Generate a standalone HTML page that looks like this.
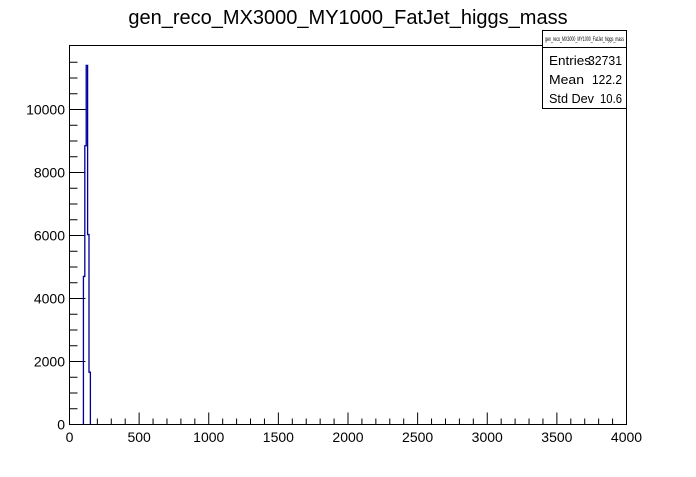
<!DOCTYPE html>
<html><head><meta charset="utf-8"><style>
body{margin:0;background:#fff;}
svg text{font-family:"Liberation Sans",sans-serif;}
</style></head><body>
<svg width="696" height="472" xmlns="http://www.w3.org/2000/svg">
<rect width="696" height="472" fill="#fff"/>
<text x="348" y="24" font-size="20" text-anchor="middle">gen_reco_MX3000_MY1000_FatJet_higgs_mass</text>
<rect x="69.5" y="45.5" width="557" height="379" fill="none" stroke="#000"/>
<g id="axes"></g>
<path id="hist" fill="none" stroke="#000099" stroke-width="1.3"/>
<g>
<rect x="542.5" y="30.5" width="84" height="78" fill="#fff" stroke="#000"/>
<line x1="542.5" y1="47.5" x2="626.5" y2="47.5" stroke="#000"/>
<text x="545" y="41" font-size="6" textLength="79" lengthAdjust="spacingAndGlyphs">gen_reco_MX3000_MY1000_FatJet_higgs_mass</text>
<text x="549" y="65" font-size="13" textLength="42" lengthAdjust="spacingAndGlyphs">Entries</text><text x="588" y="65" font-size="13" textLength="34" lengthAdjust="spacingAndGlyphs">32731</text>
<text x="549" y="84" font-size="13" textLength="35" lengthAdjust="spacingAndGlyphs">Mean</text><text x="592" y="84" font-size="13" textLength="30" lengthAdjust="spacingAndGlyphs">122.2</text>
<text x="549" y="103" font-size="13" textLength="45" lengthAdjust="spacingAndGlyphs">Std Dev</text><text x="600" y="103" font-size="13" textLength="22" lengthAdjust="spacingAndGlyphs">10.6</text>
</g>
</svg>
<script>
const binLow=[100,110,120,130,140];
const binWidth=10;
const counts=[4700,8850,11400,6030,1660];
const xTicks=[0,500,1000,1500,2000,2500,3000,3500,4000];
const yTicks=[0,2000,4000,6000,8000,10000];
const X=v=>69.5+v*557/4000, Y=v=>424.5-v*0.0315;
const ns="http://www.w3.org/2000/svg", g=document.getElementById('axes');
function ln(x1,y1,x2,y2){const l=document.createElementNS(ns,'line');l.setAttribute('x1',x1);l.setAttribute('y1',y1);l.setAttribute('x2',x2);l.setAttribute('y2',y2);l.setAttribute('stroke','#000');

g.appendChild(l);}
function tx(x,y,s,a){const t=document.createElementNS(ns,'text');t.setAttribute('x',x);t.setAttribute('y',y);t.setAttribute('font-size','14');t.setAttribute('text-anchor',a);t.textContent=s;

g.appendChild(t);}
for(let v=0;v<=4000;v+=100){ln(X(v),424.5,X(v),424.5-(v%500?6:12));}
xTicks.forEach(v=>tx(X(v),442,v,'middle'));
for(let v=0;v<=11500;v+=500){ln(69.5,Y(v),69.5+(v%2000?8:16),Y(v));}
yTicks.forEach(v=>tx(65,Y(v)+5,v,'end'));
let d='M'+X(binLow[0])+','+Y(0);
binLow.forEach((b,i)=>{d+=' L'+X(b)+','+Y(counts[i])+' L'+X(b+binWidth)+','+Y(counts[i]);});
d+=' L'+X(binLow[binLow.length-1]+binWidth)+','+Y(0);
document.getElementById('hist').setAttribute('d',d);
</script>
</body></html>
